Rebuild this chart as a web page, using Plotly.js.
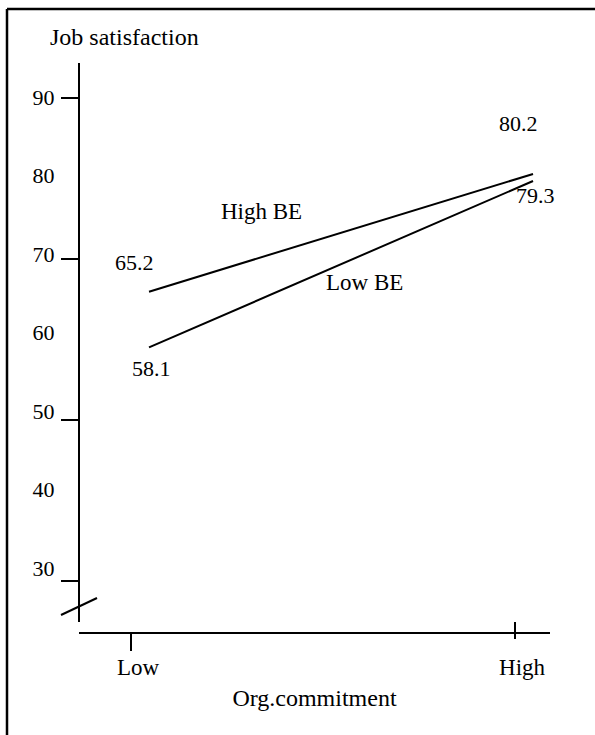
<!DOCTYPE html>
<html><head><meta charset="utf-8">
<script src="https://cdn.plot.ly/plotly-3.0.1.min.js"></script>
<style>html,body{margin:0;padding:0;background:#fff}#chart{width:595px;height:735px}</style>
</head><body><div id="chart"></div>
<script>
// ---- data ----
const categories = ['Low', 'High'];
const seriesNames = ['High BE', 'Low BE'];
const highBE = [65.2, 80.2];
const lowBE = [58.1, 79.3];
const yTickLabels = [30, 40, 50, 60, 70, 80, 90];
const yTickMarks = [30, 50, 70, 90];
const yTitle = 'Job satisfaction';
const xTitle = 'Org.commitment';

// ---- layout helpers (pixel -> paper) ----
const W = 595, H = 735;
const px = x => x / W;
const py = y => 1 - y / H;
const FONT = "'Liberation Serif', 'Times New Roman', serif";
const numFont = {family: FONT, size: 22, color: '#000'};
const wordFont = {family: FONT, size: 23, color: '#000'};
const titleFont = {family: FONT, size: 24, color: '#000'};

const xDomain = [px(79), px(550)];
const yDomain = [py(622), py(63)];
const xPos = py(633);
const yPos = px(79);
const xRange = [-0.1354, 1.0911];
const xLineRange = [-0.1823, 1.0442];
const yLabelRange = [23.12, 94.33];
const yTickRange = [24.91, 94.35];

const series = [highBE, lowBE];
const traces = series.map((vals, k) => ({
  x: categories, y: vals, xaxis: 'x2', yaxis: 'y',
  type: 'scatter', mode: 'lines', name: seriesNames[k],
  line: {color: '#000', width: 2}, hoverinfo: 'skip'
}));

const valueShifts = [[[-15, 29], [-15, 50]], [[2, -21], [2, -15]]];
const annotations = [];
series.forEach((vals, k) => {
  vals.forEach((v, i) => {
    annotations.push({
      xref: 'x2', yref: 'y', x: i, y: v, text: v.toFixed(1),
      showarrow: false, xshift: valueShifts[k][i][0], yshift: valueShifts[k][i][1],
      font: numFont
    });
  });
});
const namePos = [[0.294, 75.35], [0.56, 66.4]];
seriesNames.forEach((n, k) => {
  annotations.push({xref: 'x2', yref: 'y', x: namePos[k][0], y: namePos[k][1],
    text: n, showarrow: false, font: wordFont});
});

const baseX = {
  type: 'category', categoryarray: categories, categoryorder: 'array',
  domain: xDomain, anchor: 'free', position: xPos, range: xRange,
  showgrid: false, zeroline: false, fixedrange: true
};
const baseY = {
  domain: yDomain, anchor: 'free', position: yPos,
  showgrid: false, zeroline: false, fixedrange: true
};

const layout = {
  width: W, height: H,
  margin: {l: 0, r: 0, t: 0, b: 0, pad: 0},
  paper_bgcolor: '#fff', plot_bgcolor: 'rgba(0,0,0,0)',
  showlegend: false, hovermode: false,
  title: {text: yTitle, x: px(50), xanchor: 'left', y: py(37), yanchor: 'middle', font: titleFont},
  xaxis: Object.assign({}, baseX, {
    showline: true, linecolor: '#000', linewidth: 2,
    tickvals: categories, ticktext: categories,
    ticks: 'outside', ticklen: 13, tickwidth: 2, tickcolor: 'rgba(0,0,0,0)',
    ticklabelshift: 7, tickfont: wordFont,
    title: {text: xTitle, font: titleFont, standoff: 10}
  }),
  xaxis2: Object.assign({}, baseX, {overlaying: 'x', range: xLineRange, visible: false}),
  xaxis3: Object.assign({}, baseX, {overlaying: 'x', showline: false, showticklabels: false,
    tickvals: [categories[0]], ticks: 'outside', ticklen: 17, tickwidth: 2, tickcolor: '#000'}),
  xaxis4: Object.assign({}, baseX, {overlaying: 'x', showline: false, showticklabels: false,
    tickvals: [categories[1]], ticks: 'outside', ticklen: 5, tickwidth: 2, tickcolor: '#000'}),
  xaxis5: Object.assign({}, baseX, {overlaying: 'x', showline: false, showticklabels: false,
    tickvals: [categories[1]], ticks: 'inside', ticklen: 11, tickwidth: 2, tickcolor: '#000'}),
  yaxis: Object.assign({}, baseY, {
    range: yLabelRange, showline: false,
    tickvals: yTickLabels, ticktext: yTickLabels.map(String),
    ticks: 'outside', ticklen: 20, tickcolor: 'rgba(0,0,0,0)', tickfont: numFont
  }),
  yaxis2: Object.assign({}, baseY, {
    overlaying: 'y', range: yTickRange, showline: true, linecolor: '#000', linewidth: 2,
    tickvals: yTickMarks, showticklabels: false,
    ticks: 'outside', ticklen: 17, tickwidth: 2, tickcolor: '#000'
  }),
  shapes: [
    {type: 'line', xref: 'paper', yref: 'paper', x0: px(7), x1: px(7), y0: py(9), y1: py(735),
      line: {color: '#000', width: 2.5}},
    {type: 'line', xref: 'paper', yref: 'paper', x0: px(7), x1: px(595), y0: py(9), y1: py(9),
      line: {color: '#000', width: 2.5}},
    // axis break mark
    {type: 'line', xref: 'paper', yref: 'paper', x0: px(61), x1: px(97), y0: py(615), y1: py(598),
      line: {color: '#000', width: 2}}
  ],
  annotations: annotations
};

// empty traces so the main and overlay axes render
const axisTraces = ['x', 'x3', 'x4', 'x5'].map(ax => ({
  x: categories, y: [null, null], xaxis: ax, yaxis: 'y', type: 'scatter', mode: 'lines',
  hoverinfo: 'skip', showlegend: false
}));
const yTickTrace = {x: categories, y: [null, null], xaxis: 'x2', yaxis: 'y2', type: 'scatter',
  mode: 'lines', hoverinfo: 'skip', showlegend: false};

Plotly.newPlot('chart', traces.concat(axisTraces, [yTickTrace]), layout, {staticPlot: true, displayModeBar: false});
</script>
</body></html>
